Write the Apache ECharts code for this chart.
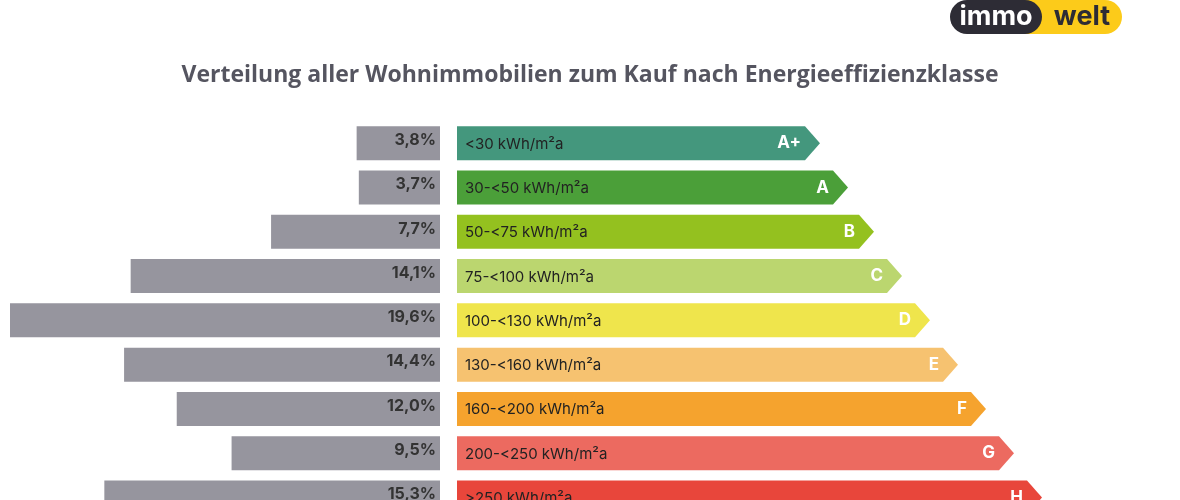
<!DOCTYPE html>
<html>
<head>
<meta charset="utf-8">
<script src="https://cdn.jsdelivr.net/npm/echarts@6/dist/echarts.min.js"></script>
<style>html,body{margin:0;padding:0;background:#fff}#c{width:1180px;height:500px}</style>
</head>
<body>
<div id="c"></div>
<script>
const classes = ['A+', 'A', 'B', 'C', 'D', 'E', 'F', 'G', 'H'];
const ranges = ['<30 kWh/m²a', '30-<50 kWh/m²a', '50-<75 kWh/m²a', '75-<100 kWh/m²a', '100-<130 kWh/m²a',
  '130-<160 kWh/m²a', '160-<200 kWh/m²a', '200-<250 kWh/m²a', '>250 kWh/m²a'];
const shares = [3.8, 3.7, 7.7, 14.1, 19.6, 14.4, 12.0, 9.5, 15.3];
// arrow length (px-like units) per class, the label scale grows by step
const arrowLen = [363, 391, 417, 445, 473, 501, 529, 557, 585];
const colors = ['#44977d', '#4b9f39', '#94c11f', '#bbd66f', '#efe54c', '#f6c270', '#f5a32e', '#ec6a60', '#e8463b'];

const chart = echarts.init(document.getElementById('c'));
const font = 'Inter, "Open Sans", sans-serif';
// last row is cut off by the bottom edge, so the row axis runs past 8
const yAx = (i) => ({ gridIndex: i, type: 'value', min: -0.5, max: 8.055, inverse: true, show: false });
const H = 34;

chart.setOption({
  animation: false,
  textStyle: { fontFamily: font },
  title: {
    text: 'Verteilung aller Wohnimmobilien zum Kauf nach Energieeffizienzklasse',
    left: 'center', top: 59,
    textStyle: { fontSize: 23, fontWeight: 'bold', color: '#555560', fontFamily: '"Open Sans", sans-serif' }
  },
  graphic: [
    { type: 'rect', shape: { x: 1000, y: 0, width: 122, height: 34, r: 17 }, style: { fill: '#fccb1a' } },
    { type: 'rect', shape: { x: 950, y: 0, width: 92, height: 34, r: 17 }, style: { fill: '#2d2c35' } },
    { type: 'text', x: 996, y: 17, style: { text: 'immo', fill: '#fff', font: 'bold 27px ' + font, align: 'center', verticalAlign: 'middle' } },
    { type: 'text', x: 1082, y: 17, style: { text: 'welt', fill: '#2d2c35', font: 'bold 27px ' + font, align: 'center', verticalAlign: 'middle' } }
  ],
  grid: [
    { left: 10, width: 430, top: 121, bottom: 0 },
    { left: 457, right: 0, top: 121, bottom: 0 }
  ],
  xAxis: [
    { gridIndex: 0, type: 'value', min: 0, max: 19.6, inverse: true, show: false },
    { gridIndex: 1, type: 'value', min: 0, max: 723, show: false }
  ],
  yAxis: [yAx(0), yAx(1)],
  series: [
    {
      type: 'custom', xAxisIndex: 0, yAxisIndex: 0,
      data: shares.map((v, i) => [v, i]),
      renderItem: (params, api) => {
        const i = params.dataIndex;
        const p0 = api.coord([0, i]);
        const p1 = api.coord([api.value(0), i]);
        const y = p0[1];
        return {
          type: 'group',
          children: [
            { type: 'rect', shape: { x: p1[0], y: y - H / 2, width: p0[0] - p1[0], height: H }, style: { fill: '#96959e' } },
            { type: 'text', x: p0[0] - 4, y: y - 3, style: { text: api.value(0).toFixed(1).replace('.', ',') + '%', fill: '#333', font: 'bold 16px ' + font, align: 'right', verticalAlign: 'middle' } }
          ]
        };
      }
    },
    {
      type: 'custom', xAxisIndex: 1, yAxisIndex: 1,
      data: arrowLen.map((v, i) => [v, i]),
      renderItem: (params, api) => {
        const i = params.dataIndex;
        const p0 = api.coord([0, i]);
        const p1 = api.coord([api.value(0), i]);
        const y = p0[1], x0 = p0[0], tip = p1[0], body = tip - 15;
        return {
          type: 'group',
          children: [
            { type: 'polygon', shape: { points: [[x0, y - H / 2], [body, y - H / 2], [tip, y], [body, y + H / 2], [x0, y + H / 2]] },
              style: { fill: colors[i] } },
            { type: 'text', x: x0 + 8, y: y + 1, style: { text: ranges[i], fill: '#222', font: '15px ' + font, verticalAlign: 'middle' } },
            { type: 'text', x: body - 4, y: y, style: { text: classes[i], fill: '#fff', font: 'bold 17px ' + font, verticalAlign: 'middle', align: 'right' } }
          ]
        };
      }
    }
  ]
});
</script>
</body>
</html>
